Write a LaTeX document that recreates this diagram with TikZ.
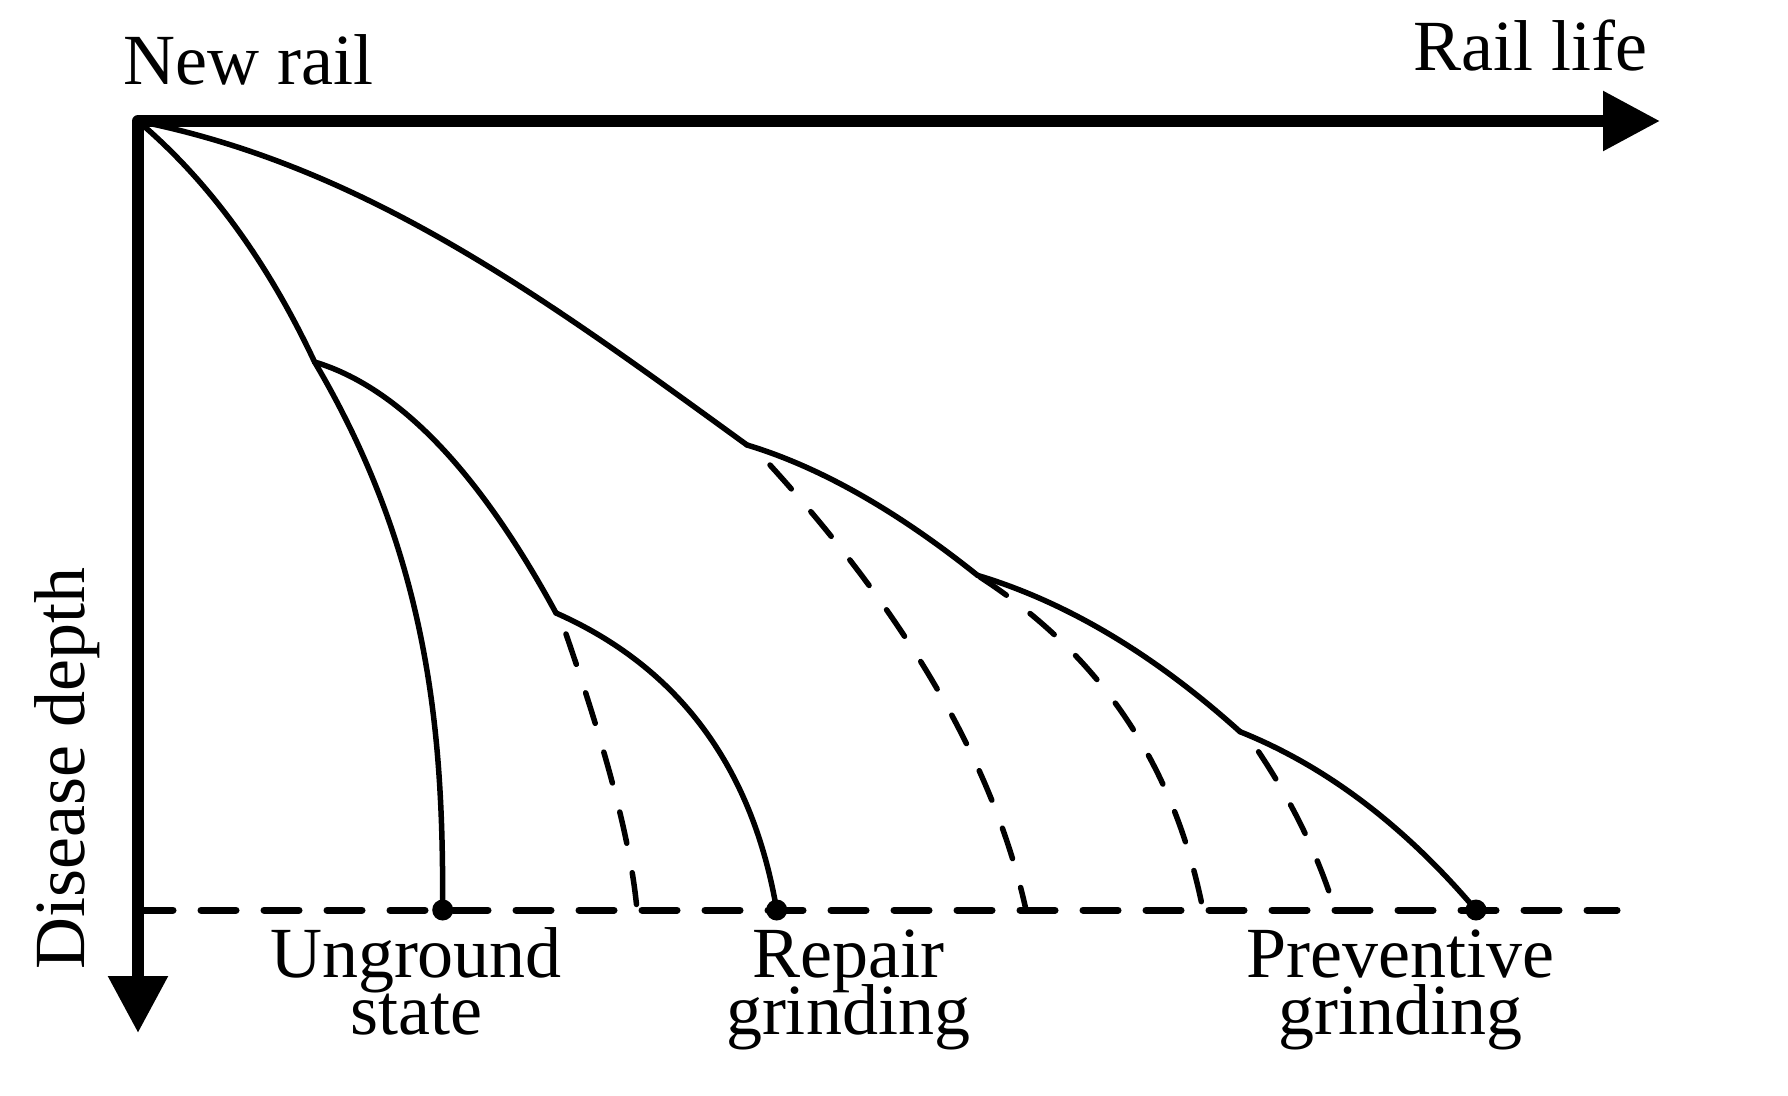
\documentclass[tikz,border=0pt]{standalone}
\usepackage{fontspec}
\setmainfont{LiberationSerif}[Extension=.ttf,UprightFont=*-Regular,BoldFont=*-Bold,ItalicFont=*-Italic]
\usetikzlibrary{arrows.meta}
\begin{document}
\begin{tikzpicture}[x=1pt,y=-1pt,
  axisline/.style={line width=12pt,line join=round,
    {Triangle[length=57pt,width=57pt]}-{Triangle[length=57pt,width=57pt]}},
  solidcurve/.style={line width=5.5pt,line cap=round,line join=round},
  dashcurve/.style={line width=5.5pt,line cap=round,dash pattern=on 32pt off 30pt},
  baseline/.style={line width=7pt,line cap=round,dash pattern=on 35pt off 28pt},
  dot/.style={circle,fill=black,inner sep=0pt,minimum size=21pt},
  lbl/.style={inner sep=0pt,font=\rmfamily\fontsize{72}{72}\selectfont}]
\useasboundingbox (0,0) rectangle (1788,1095);
% key points
\coordinate (O) at (138,121);
\coordinate (xend) at (1660,121);
\coordinate (yend) at (138,1033);
\coordinate (K0) at (314.6,362);
\coordinate (K1) at (747,445);
\coordinate (K2) at (556,613);
\coordinate (K3) at (977.6,575.4);
\coordinate (K4) at (1240,731.7);
\coordinate (bl0) at (138,910);
\coordinate (bl1) at (1617,910);
\coordinate (e1s) at (566,634);
\coordinate (e1e) at (637,910);
\coordinate (e2s) at (770,465);
\coordinate (e2e) at (1026,910);
\coordinate (e3s) at (980,577);
\coordinate (e3e) at (1203,910);
\coordinate (e4s) at (1258.6,751.8);
\coordinate (e4e) at (1331.5,899);
% axes
\draw[axisline] (xend) -- (O) -- (yend);
% baseline
\draw[baseline] (bl0) -- (bl1);
% dots
\node[dot] (d1) at (442.7,910) {};
\node[dot] (d2) at (776.7,910) {};
\node[dot] (d3) at (1476,910) {};
% solid curves
\draw[solidcurve] (O) .. controls (208,180.3) and (266.9,260.3) .. (K0);
\draw[solidcurve] (K0) .. controls (434.6,565) and (443,750) .. (d1.center);
\draw[solidcurve] (K0) .. controls (398.2,387) and (478.6,470.7) .. (K2);
\draw[solidcurve] (K2) .. controls (678.6,667.3) and (752.2,766.7) .. (d2.center);
\draw[solidcurve] (O) .. controls (368,167) and (547,300) .. (K1);
\draw[solidcurve] (K1) .. controls (819.1,466.7) and (896,510.1) .. (K3);
\draw[solidcurve] (K3) .. controls (1066.3,602) and (1153.8,654.1) .. (K4);
\draw[solidcurve] (K4) .. controls (1324.5,765.5) and (1403.2,824.3) .. (d3.center);
% dashed curves
\draw[dashcurve] (e1s) .. controls (606,750) and (631,842) .. (e1e);
\draw[dashcurve] (e2s) .. controls (908.7,617.7) and (994.3,765.7) .. (e2e);
\draw[dashcurve] (e3s) .. controls (1101.6,656.1) and (1174.5,765.5) .. (e3e);
\draw[dashcurve] (e4s) .. controls (1290.4,799.5) and (1314.7,848.5) .. (e4e);
% labels
\node[lbl,anchor=base west] (newrail) at (123,84) {New rail};
\node[lbl,anchor=base east] (raillife) at (1648,70) {Rail life};
\node[lbl,anchor=base west,rotate=90] (depth) at (84,970) {Disease depth};
\node[lbl,anchor=base] (ug1) at (416,977) {Unground};
\node[lbl,anchor=base] (ug2) at (416,1034) {state};
\node[lbl,anchor=base] (rg1) at (848,977) {Repair};
\node[lbl,anchor=base] (rg2) at (848,1034) {grinding};
\node[lbl,anchor=base] (pg1) at (1400,977) {Preventive};
\node[lbl,anchor=base] (pg2) at (1400,1034) {grinding};
\end{tikzpicture}
\end{document}
